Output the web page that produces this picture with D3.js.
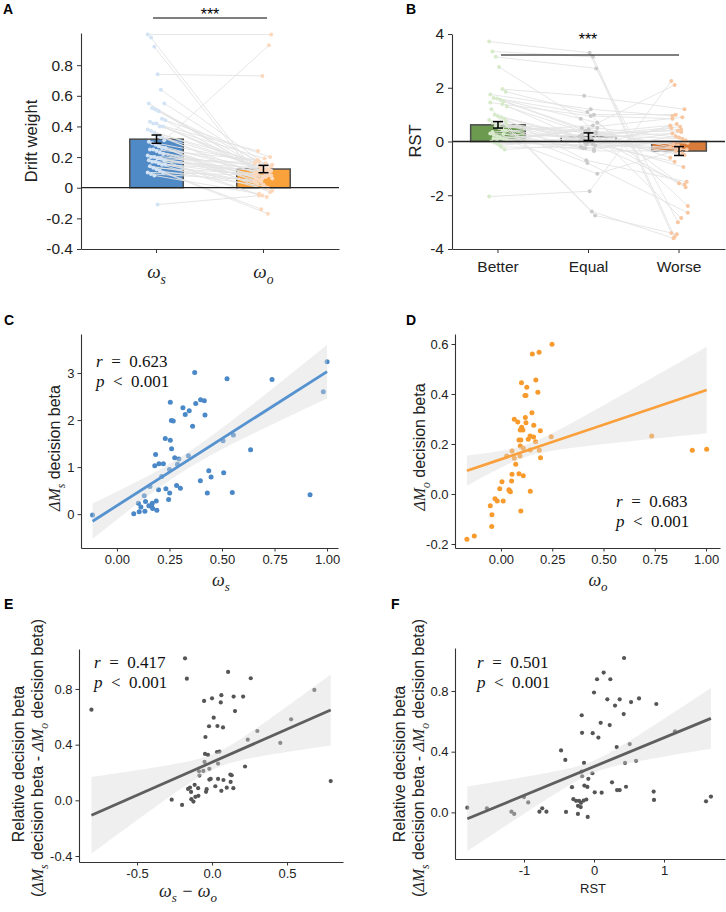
<!DOCTYPE html>
<html>
<head>
<meta charset="utf-8">
<script src="https://cdn.jsdelivr.net/npm/d3@7"></script>
<style>
body { margin: 0; background: #fff; }
text { font-family: "Liberation Sans", Arial, sans-serif; }
</style>
</head>
<body>
<svg id="fig" width="726" height="912"></svg>
<script>
// ---- data ----
// A: drift weights (paired per participant)
const aCats = ["s", "o"];
const aMeans = [0.317, 0.122];
const aSE = [0.027, 0.024];
const aWs = [1.00,0.98,0.92,0.74,0.64,0.55,0.55,0.52,0.51,0.50,0.45,0.44,0.43,0.42,0.42,0.40,0.40,0.38,0.37,0.36,
  0.34,0.33,0.31,0.30,0.29,0.28,0.27,0.26,0.26,0.25,0.25,0.24,0.23,0.22,0.21,0.20,0.20,0.19,0.19,0.18,
  0.18,0.17,0.17,0.16,0.15,0.15,0.14,0.13,0.12,0.11,0.10,0.10,0.09,0.08,-0.11];
const aWo = [1.00,0.10,0.05,0.73,0.15,0.12,0.06,0.18,0.14,0.10,0.08,0.20,0.16,0.24,0.12,0.19,0.09,0.11,0.06,0.17,
  0.13,0.07,0.93,0.15,0.10,0.05,0.02,0.12,-0.03,0.08,0.18,0.04,0.11,0.00,0.14,0.09,-0.05,0.06,0.16,0.10,
  -0.02,0.03,0.13,0.07,-0.06,0.11,0.04,0.09,-0.14,0.01,-0.17,0.08,0.05,-0.04,-0.05];

// B: RST by condition (paired per participant)
const bCats = ["Better", "Equal", "Worse"];
const bMeans = [0.62, 0.18, -0.355];
const bSE = [0.12, 0.14, 0.165];
const bBetter = [3.72,3.35,3.15,2.77,1.95,1.85,1.75,1.62,1.60,1.55,1.50,1.30,1.20,1.00,0.95,0.90,0.85,0.80,0.70,0.60,
  0.50,0.45,0.40,0.30,0.25,0.20,0.15,0.10,0.05,0.00,-0.05,-0.10,-0.20,-0.30,-2.05,0.35,0.55,0.65,1.40,0.75,
  1.45,0.12,0.08,-0.15,0.28,0.62];
const bEqual = [3.30,3.15,2.72,0.85,1.70,1.10,1.20,1.00,0.70,0.50,0.40,0.30,-2.60,-2.75,0.20,0.10,-0.70,0.00,-0.10,0.30,
  -0.20,0.05,-0.80,0.15,-0.30,-1.20,0.25,-0.05,0.45,0.10,-0.15,0.00,-0.25,-0.10,-1.85,0.60,0.35,0.20,0.05,-0.05,
  0.95,-0.35,0.50,0.15,-0.25,0.40];
const bWorse = [-3.40,-3.55,-3.00,-2.85,1.20,-2.40,0.95,1.00,-1.55,0.90,-1.70,0.60,-3.60,-3.45,0.55,-0.95,-1.50,0.50,-0.75,0.40,
  0.35,-0.50,-2.65,0.30,0.20,-0.30,0.10,0.00,-0.20,-0.10,0.65,-0.25,0.00,-0.30,2.25,2.10,-0.15,0.45,-1.60,-0.05,
  0.85,-0.35,0.15,-0.45,0.05,-0.60];

// C: omega_s vs delta M_s decision beta
const cWs = [-0.116,1.00,0.982,0.37,0.524,0.738,0.254,0.314,0.375,0.398,0.416,0.344,0.325,0.419,0.259,0.268,0.36,0.23,0.254,0.26,
  0.184,0.275,0.295,0.34,0.18,0.20,0.221,0.288,0.25,0.213,0.157,0.198,0.233,0.251,0.284,0.302,0.246,0.13,0.102,0.114,
  0.136,0.152,0.168,0.187,0.19,0.165,0.106,0.08,0.133,0.17,0.397,0.437,0.448,0.508,0.43,0.549,0.636,0.505,0.554,0.919];
const cDMs = [-0.02,3.24,2.60,3.01,2.88,2.86,2.38,2.26,2.35,2.43,2.41,2.20,2.12,2.11,1.99,1.98,1.87,1.61,1.57,1.39,
  1.27,1.20,1.17,1.24,1.03,1.07,1.07,1.06,0.95,0.80,0.59,0.52,0.54,0.45,0.61,0.55,0.31,0.39,0.23,0.15,
  0.27,0.18,0.23,0.28,0.08,0.16,0.05,0.01,0.06,0.12,0.71,0.92,0.79,0.88,0.45,0.46,1.37,1.56,1.68,0.41];
const cFit = [0.18, 2.85];          // intercept, slope of the drawn fit
const cBand = [0.31, 0.17, 0.57];   // x of narrowest point, half-width there, half-width at right end

// D: omega_o vs delta M_o decision beta
const dWo = [-0.166,-0.13,0.249,0.153,0.186,0.10,0.17,0.126,0.18,0.117,0.122,0.151,0.065,0.082,0.119,0.122,0.16,0.101,0.107,0.094,
  0.192,0.142,0.159,0.133,0.088,0.097,0.169,0.245,0.735,0.933,1.003,0.094,0.109,0.143,0.187,0.054,0.028,0.093,0.065,0.193,
  0.072,0.054,0.088,0.109,0.052,0.005,-0.006,0.039,0.046,0.041,0.143,-0.029,-0.018,0.011,-0.052,-0.044,-0.045,0.097];
const dDMo = [-0.181,-0.168,0.599,0.56,0.567,0.445,0.456,0.427,0.407,0.394,0.394,0.325,0.299,0.288,0.306,0.285,0.275,0.267,0.256,0.256,
  0.253,0.232,0.228,0.219,0.216,0.216,0.209,0.229,0.232,0.175,0.179,0.192,0.183,0.176,0.175,0.172,0.152,0.152,0.143,0.145,
  0.119,0.079,0.081,0.073,0.052,0.049,0.021,0.017,0.009,0.013,0.011,-0.019,-0.028,-0.028,-0.047,-0.083,-0.13,-0.068];
const dFit = [0.139, 0.276];
const dBand = [0.12, 0.024, 0.173];

// E: omega_s - omega_o vs relative decision beta
const eDiff = [-0.804,-0.18,-0.168,0.107,0.258,-0.053,0.0,0.062,0.058,0.144,0.207,0.153,0.011,-0.02,0.036,0.073,-0.044,-0.047,-0.027,0.033,
  0.049,-0.05,0.04,-0.018,-0.087,-0.058,-0.084,0.238,0.302,0.455,0.527,0.682,0.791,0.22,-0.269,-0.2,-0.124,-0.138,-0.111,-0.091,
  -0.16,-0.147,-0.116,-0.093,-0.04,-0.036,-0.018,-0.009,0.022,0.04,0.062,0.076,0.098,0.124,0.131,0.122,0.142,-0.14];
const eRel = [0.651,1.02,0.874,0.922,0.877,0.714,0.733,0.755,0.703,0.745,0.745,0.641,0.594,0.532,0.534,0.524,0.455,0.333,0.326,0.347,
  0.35,0.276,0.264,0.226,0.209,0.211,0.178,0.436,0.498,0.412,0.582,0.793,0.138,0.243,0.005,-0.033,-0.009,0.008,0.025,0.032,
  0.082,0.092,0.111,0.087,0.061,0.08,0.149,0.154,0.101,0.154,0.068,0.146,0.091,0.132,0.18,0.185,0.087,0.06];
const eFit = [0.274, 0.474];
const eBand = [0.025, 0.055, 0.255];

// F: RST vs relative decision beta
const fRst = [-1.81,-1.53,-1.18,-1.14,-0.94,-1.0,-0.78,-0.74,-0.68,-0.40,-0.23,-0.09,-0.471,-0.41,-0.315,-0.295,-0.257,-0.214,-0.229,-0.19,
  -0.186,-0.148,-0.11,-0.138,-0.095,-0.081,-0.176,-0.17,-0.143,-0.024,0.010,0.109,0.257,0.329,0.367,0.457,0.852,0.857,1.6,1.67,
  0.324,0.51,0.443,0.6,1.157,-0.171,-0.176,-0.019,0.062,0.095,0.224,0.0,0.19,0.3,0.367,0.424,0.529,0.643,0.89,0.043,
  0.138,0.233,0.429];
const fRel = [0.031,0.027,0.005,-0.01,0.066,0.101,0.005,0.027,0.005,0.003,-0.01,-0.03,0.408,0.346,0.166,0.087,0.076,0.076,0.043,0.035,
  0.063,0.078,0.085,0.177,0.168,0.221,0.269,0.238,0.326,0.258,0.132,0.13,0.198,0.147,0.147,0.169,0.137,0.082,0.073,0.104,
  0.43,0.45,0.326,0.34,0.534,0.524,0.64,0.522,0.493,0.59,0.575,0.79,0.745,0.704,0.745,0.648,0.727,0.751,0.714,0.877,
  0.921,0.877,1.017];
const fFit = [0.302, 0.190];
const fBand = [-0.017, 0.04, 0.2];

// ---- drawing ----
const svg = d3.select("#fig");
svg.append("rect").attr("width", 726).attr("height", 912).attr("fill", "#fff");

const AX = "#333";
const SANS = "'Liberation Sans', Arial, sans-serif";
const SERIF = "'Liberation Serif', 'DejaVu Serif', serif";
const minus = s => s.replace("\u2212", "-");

// horizontal spread of the dots inside a category (position only)
const jit = i => ((i * 37) % 17 - 8) * 1.1;

function styleAxis(g, fs) {
  g.select(".domain").attr("stroke", AX).attr("stroke-width", 1.1);
  g.selectAll(".tick line").attr("stroke", AX);
  g.selectAll(".tick text").attr("fill", "#222").style("font-size", fs + "px").style("font-family", SANS);
}

function panelLabel(t, x, y) {
  svg.append("text").attr("x", x).attr("y", y).text(t)
    .style("font-size", "14px").style("font-weight", "bold").attr("fill", "#000");
}

// text made of pieces: [string, italic serif?, subscript?]
function mathText(g, parts, fs) {
  const t = g.append("text");
  let sub = false;
  parts.forEach(p => {
    const sp = t.append("tspan").text(p[0]);
    if (p[1]) sp.style("font-family", SERIF).style("font-style", "italic");
    else sp.style("font-family", SANS);
    if (p[2] && !sub) { sp.attr("dy", fs * 0.3).style("font-size", (fs * 0.72) + "px"); sub = true; }
    else if (!p[2] && sub) { sp.attr("dy", -fs * 0.3); sub = false; }
    if (!p[2]) sp.style("font-size", fs + "px");
  });
  return t;
}

function stats(g, x, y, r) {
  const t1 = g.append("text").attr("x", x).attr("y", y).style("font-family", SERIF).style("font-size", "17px")
    .attr("fill", "#111").style("white-space", "pre");
  t1.append("tspan").text("r").style("font-style", "italic");
  t1.append("tspan").text("  =  " + r);
  const t2 = g.append("text").attr("x", x).attr("y", y + 20).style("font-family", SERIF).style("font-size", "17px")
    .attr("fill", "#111").style("white-space", "pre");
  t2.append("tspan").text("p").style("font-style", "italic");
  t2.append("tspan").text("  <  0.001");
}

function errorBar(g, c, y, m, se) {
  const eb = g.append("g").attr("stroke", "#000").attr("stroke-width", 1.5);
  eb.append("line").attr("x1", c).attr("x2", c).attr("y1", y(m + se)).attr("y2", y(m - se));
  eb.append("line").attr("x1", c - 5).attr("x2", c + 5).attr("y1", y(m + se)).attr("y2", y(m + se));
  eb.append("line").attr("x1", c - 5).attr("x2", c + 5).attr("y1", y(m - se)).attr("y2", y(m - se));
}

// ---------- Panel A ----------
{
  const g = svg.append("g");
  const y = d3.scaleLinear().domain([-0.4, 1.01]).range([249, 33]);
  const x = d3.scaleBand().domain(aCats).range([81, 339]).paddingInner(0.5).paddingOuter(0.456);
  const cx = c => x(c) + x.bandwidth() / 2;
  const fills = ["#4f89c6", "#f9a23c"];
  const dots = ["#d2e3f5", "#fcd8bd"];

  g.selectAll(".barA").data(aMeans).join("rect")
    .attr("x", (d, i) => x(aCats[i])).attr("width", x.bandwidth())
    .attr("y", d => y(Math.max(0, d))).attr("height", d => Math.abs(y(d) - y(0)))
    .attr("fill", (d, i) => fills[i]).attr("stroke", "#4d4d4d").attr("stroke-width", 1.5);

  g.selectAll(".pairA").data(aWs).join("line")
    .attr("x1", (d, i) => cx("s") + jit(i)).attr("y1", d => y(d))
    .attr("x2", (d, i) => cx("o") + jit(i + 5)).attr("y2", (d, i) => y(aWo[i]))
    .attr("stroke", "#e3e3e3").attr("stroke-width", 0.9);
  g.selectAll(".ptS").data(aWs).join("circle")
    .attr("cx", (d, i) => cx("s") + jit(i)).attr("cy", d => y(d)).attr("r", 2).attr("fill", dots[0]);
  g.selectAll(".ptO").data(aWo).join("circle")
    .attr("cx", (d, i) => cx("o") + jit(i + 5)).attr("cy", d => y(d)).attr("r", 2).attr("fill", dots[1]);

  g.append("line").attr("x1", 81).attr("x2", 339).attr("y1", y(0)).attr("y2", y(0))
    .attr("stroke", "#222").attr("stroke-width", 1.3);

  aMeans.forEach((m, i) => errorBar(g, cx(aCats[i]), y, m, aSE[i]));

  const ya = g.append("g").attr("transform", "translate(81,0)")
    .call(d3.axisLeft(y).tickValues([-0.4, -0.2, 0, 0.2, 0.4, 0.6, 0.8])
      .tickFormat(d => d === 0 ? "0" : minus(d3.format(".1f")(d))).tickSize(4).tickSizeOuter(0).tickPadding(4));
  styleAxis(ya, 15.5);
  const xa = g.append("g").attr("transform", "translate(0,249)")
    .call(d3.axisBottom(x).tickFormat("").tickSize(4).tickSizeOuter(0));
  styleAxis(xa, 15);
  aCats.forEach(c => {
    const t = mathText(g, [["\u03c9", true, false], [c, true, true]], 19);
    t.attr("x", cx(c)).attr("y", 278).attr("text-anchor", "middle").attr("fill", "#222");
  });

  g.append("text").attr("transform", "translate(37,141) rotate(-90)").attr("text-anchor", "middle")
    .style("font-size", "16.5px").attr("fill", "#222").text("Drift weight");

  g.append("line").attr("x1", 153).attr("x2", 267).attr("y1", 18).attr("y2", 18).attr("stroke", "#000").attr("stroke-width", 1.2);
  g.append("text").attr("x", 210).attr("y", 20).attr("text-anchor", "middle").style("font-size", "16px").text("***");
  panelLabel("A", 3, 14);
}

// ---------- Panel B ----------
{
  const g = svg.append("g");
  const y = d3.scaleLinear().domain([-4, 4]).range([249, 34]);
  const x = d3.scaleBand().domain(bCats).range([452, 725]).paddingInner(0.396).paddingOuter(0.206);
  const cx = c => x(c) + x.bandwidth() / 2;
  const fills = ["#6c9a4f", "#ffffff", "#d97b3a"];
  const dots = ["#d7eacb", "#cbcbcb", "#f8c7a1"];
  const cols = [bBetter, bEqual, bWorse];

  g.selectAll(".barB").data(bMeans).join("rect")
    .attr("x", (d, i) => x(bCats[i])).attr("width", x.bandwidth())
    .attr("y", d => y(Math.max(0, d))).attr("height", d => Math.abs(y(d) - y(0)))
    .attr("fill", (d, i) => fills[i]).attr("stroke", "#4d4d4d").attr("stroke-width", 1.5);

  [0, 1].forEach(k => {
    g.selectAll(".pairB" + k).data(cols[k]).join("line")
      .attr("x1", (d, i) => cx(bCats[k]) + jit(i + k * 3)).attr("y1", d => y(d))
      .attr("x2", (d, i) => cx(bCats[k + 1]) + jit(i + (k + 1) * 3)).attr("y2", (d, i) => y(cols[k + 1][i]))
      .attr("stroke", "#e3e3e3").attr("stroke-width", 0.9);
  });
  cols.forEach((arr, k) => {
    g.selectAll(".ptB" + k).data(arr).join("circle")
      .attr("cx", (d, i) => cx(bCats[k]) + jit(i + k * 3)).attr("cy", d => y(d)).attr("r", 2).attr("fill", dots[k]);
  });

  g.append("line").attr("x1", 452).attr("x2", 725).attr("y1", y(0)).attr("y2", y(0))
    .attr("stroke", "#222").attr("stroke-width", 1.3);

  bMeans.forEach((m, i) => errorBar(g, cx(bCats[i]), y, m, bSE[i]));

  const ya = g.append("g").attr("transform", "translate(452,0)")
    .call(d3.axisLeft(y).tickValues([-4, -2, 0, 2, 4]).tickFormat(d => minus(d3.format("d")(d)))
      .tickSize(4).tickSizeOuter(0).tickPadding(4));
  styleAxis(ya, 15.5);
  const xa = g.append("g").attr("transform", "translate(0,249)")
    .call(d3.axisBottom(x).tickSize(4).tickSizeOuter(0).tickPadding(8));
  styleAxis(xa, 15.5);

  g.append("text").attr("transform", "translate(421,141) rotate(-90)").attr("text-anchor", "middle")
    .style("font-size", "16.5px").attr("fill", "#222").text("RST");

  g.append("line").attr("x1", 501).attr("x2", 679).attr("y1", 55).attr("y2", 55).attr("stroke", "#000").attr("stroke-width", 1.2);
  g.append("text").attr("x", 588).attr("y", 45).attr("text-anchor", "middle").style("font-size", "16px").text("***");
  panelLabel("B", 406, 14);
}

// ---------- scatter panels ----------
function scatter(o) {
  const g = svg.append("g");
  const x = d3.scaleLinear().domain(o.xd).range(o.xr);
  const y = d3.scaleLinear().domain(o.yd).range(o.yr);

  g.selectAll("circle").data(o.xs).join("circle")
    .attr("cx", d => x(d)).attr("cy", (d, i) => y(o.ys[i])).attr("r", o.r).attr("fill", o.color);

  // fitted line with its confidence band (hyperbolic half-width)
  const [a, b] = o.fit;
  const [xm, h0, hR] = o.band;
  const [x0, x1] = d3.extent(o.xs);
  const k = (hR * hR - h0 * h0) / ((x1 - xm) ** 2);
  const grid = d3.range(0, 81).map(j => x0 + (x1 - x0) * j / 80);
  const band = grid.map(v => {
    const f = a + b * v, h = Math.sqrt(h0 * h0 + k * (v - xm) ** 2);
    return [v, f - h, f + h];
  });
  g.append("path").datum(band)
    .attr("d", d3.area().x(d => x(d[0])).y0(d => y(d[1])).y1(d => y(d[2])))
    .attr("fill", "#d9d9d9").attr("opacity", 0.42);
  g.append("line").attr("x1", x(x0)).attr("y1", y(a + b * x0)).attr("x2", x(x1)).attr("y2", y(a + b * x1))
    .attr("stroke", o.line).attr("stroke-width", 2.8);

  const ya = g.append("g").attr("transform", `translate(${o.xr[0]},0)`)
    .call(d3.axisLeft(y).tickValues(o.yt).tickFormat(d => minus(d3.format(o.yf)(d)))
      .tickSize(3.5).tickSizeOuter(0).tickPadding(3));
  styleAxis(ya, 13);
  const xa = g.append("g").attr("transform", `translate(0,${o.yr[0]})`)
    .call(d3.axisBottom(x).tickValues(o.xt).tickFormat(d => minus(d3.format(o.xf)(d)))
      .tickSize(3.5).tickSizeOuter(0).tickPadding(3));
  styleAxis(xa, 13);
  return g;
}

// ---------- Panel C ----------
{
  const g = scatter({
    xs: cWs, ys: cDMs, fit: cFit, band: cBand, xd: [-0.171, 1.052], xr: [81, 338], yd: [-0.72, 3.83], yr: [548, 334],
    xt: [0, 0.25, 0.5, 0.75, 1], xf: ".2f", yt: [0, 1, 2, 3], yf: "d",
    r: 2.5, color: "#4a88c7", line: "#5592cf"
  });
  stats(g, 96, 367, "0.623");
  const xt = mathText(g, [["\u03c9", true, false], ["s", true, true]], 18);
  xt.attr("x", 221).attr("y", 586).attr("text-anchor", "middle").attr("fill", "#222");
  const yt = mathText(g, [["\u0394M", true, false], ["s", true, true], [" decision beta", false, false]], 16);
  yt.attr("transform", "translate(60,448) rotate(-90)").attr("text-anchor", "middle").attr("fill", "#222");
  panelLabel("C", 4, 325);
}

// ---------- Panel D ----------
{
  const g = scatter({
    xs: dWo, ys: dDMo, fit: dFit, band: dBand, xd: [-0.224, 1.068], xr: [455, 720], yd: [-0.216, 0.64], yr: [548, 334],
    xt: [0, 0.25, 0.5, 0.75, 1], xf: ".2f", yt: [-0.2, 0, 0.2, 0.4, 0.6], yf: ".1f",
    r: 2.5, color: "#f89a2c", line: "#f9a03c"
  });
  stats(g, 616, 507, "0.683");
  const xt = mathText(g, [["\u03c9", true, false], ["o", true, true]], 18);
  xt.attr("x", 598).attr("y", 586).attr("text-anchor", "middle").attr("fill", "#222");
  const yt = mathText(g, [["\u0394M", true, false], ["o", true, true], [" decision beta", false, false]], 16);
  yt.attr("transform", "translate(425,447) rotate(-90)").attr("text-anchor", "middle").attr("fill", "#222");
  panelLabel("D", 406, 325);
}

// ---------- Panel E ----------
{
  const g = scatter({
    xs: eDiff, ys: eRel, fit: eFit, band: eBand, xd: [-0.887, 0.873], xr: [79, 343], yd: [-0.443, 1.087], yr: [862, 649],
    xt: [-0.5, 0, 0.5], xf: ".1f", yt: [-0.4, 0, 0.4, 0.8], yf: ".1f",
    r: 2.1, color: "#555555", line: "#5e5e5e"
  });
  stats(g, 94, 668, "0.417");
  const xt = mathText(g, [["\u03c9", true, false], ["s", true, true], [" \u2212 \u03c9", true, false], ["o", true, true]], 18);
  xt.attr("x", 188).attr("y", 897).attr("text-anchor", "middle").attr("fill", "#222");
  g.append("text").attr("transform", "translate(24,764) rotate(-90)").attr("text-anchor", "middle")
    .style("font-size", "16px").attr("fill", "#222").text("Relative decision beta");
  const yt = mathText(g, [["(", false, false], ["\u0394M", true, false], ["s", true, true], [" decision beta - ", false, false],
    ["\u0394M", true, false], ["o", true, true], [" decision beta)", false, false]], 16);
  yt.attr("transform", "translate(43,758) rotate(-90)").attr("text-anchor", "middle").attr("fill", "#222");
  panelLabel("E", 4, 609);
}

// ---------- Panel F ----------
{
  const g = scatter({
    xs: fRst, ys: fRel, fit: fFit, band: fBand, xd: [-1.986, 1.871], xr: [455, 725], yd: [-0.307, 1.083], yr: [859, 648],
    xt: [-1, 0, 1], xf: "d", yt: [0, 0.4, 0.8], yf: ".1f",
    r: 2.1, color: "#555555", line: "#5e5e5e"
  });
  stats(g, 477, 668, "0.501");
  g.append("text").attr("x", 593).attr("y", 893).attr("text-anchor", "middle")
    .style("font-size", "13px").attr("fill", "#222").text("RST");
  g.append("text").attr("transform", "translate(405,764) rotate(-90)").attr("text-anchor", "middle")
    .style("font-size", "16px").attr("fill", "#222").text("Relative decision beta");
  const yt = mathText(g, [["(", false, false], ["\u0394M", true, false], ["s", true, true], [" decision beta - ", false, false],
    ["\u0394M", true, false], ["o", true, true], [" decision beta)", false, false]], 16);
  yt.attr("transform", "translate(424,758) rotate(-90)").attr("text-anchor", "middle").attr("fill", "#222");
  panelLabel("F", 391, 609);
}
</script>
</body>
</html>
